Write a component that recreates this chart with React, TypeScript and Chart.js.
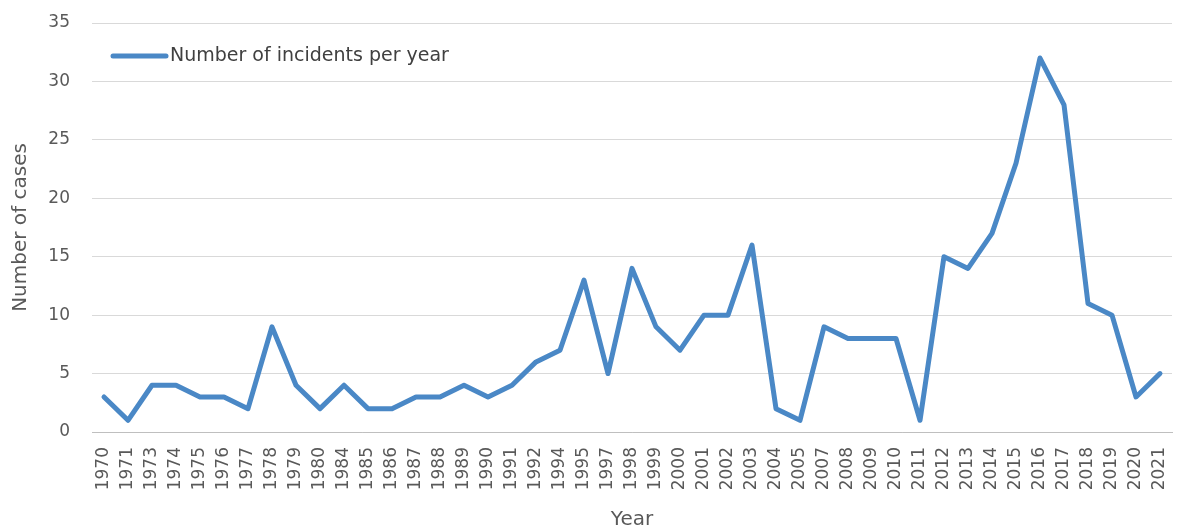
import { useEffect, useRef } from "react";
import { Chart, registerables } from "chart.js";

Chart.register(...registerables);

const years = [
  "1970", "1971", "1973", "1974", "1975", "1976", "1977", "1978", "1979", "1980",
  "1984", "1985", "1986", "1987", "1988", "1989", "1990", "1991", "1992", "1994",
  "1995", "1997", "1998", "1999", "2000", "2001", "2002", "2003", "2004", "2005",
  "2007", "2008", "2009", "2010", "2011", "2012", "2013", "2014", "2015", "2016",
  "2017", "2018", "2019", "2020", "2021",
];

const incidents = [
  3, 1, 4, 4, 3, 3, 2, 9, 4, 2,
  4, 2, 2, 3, 3, 4, 3, 4, 6, 7,
  13, 5, 14, 9, 7, 10, 10, 16, 2, 1,
  9, 8, 8, 8, 1, 15, 14, 17, 23, 32,
  28, 11, 10, 3, 5,
];

const seriesName = "Number of incidents per year";
const xTitle = "Year";
const yTitle = "Number of cases";

const LINE_COLOR = "#4a88c6";
const TEXT_COLOR = "#595959";
const FONT = "'DejaVu Sans', Verdana, sans-serif";

// Legend drawn inside the plot area, top-left, as a short line sample plus label
const insideLegend = {
  id: "insideLegend",
  afterDraw(chart: any) {
    const { ctx, chartArea } = chart;
    const ds = chart.data.datasets[0];
    const x0 = chartArea.left + 21;
    const y = chartArea.top + 33;
    ctx.save();
    ctx.strokeStyle = ds.borderColor;
    ctx.lineWidth = 5;
    ctx.lineCap = "round";
    ctx.beginPath();
    ctx.moveTo(x0, y);
    ctx.lineTo(x0 + 53, y);
    ctx.stroke();
    ctx.fillStyle = "#404040";
    ctx.font = `19px ${FONT}`;
    ctx.textBaseline = "middle";
    ctx.textAlign = "left";
    ctx.fillText(ds.label, x0 + 57, y);
    ctx.restore();
  },
};

export default function App() {
  const canvasRef = useRef<HTMLCanvasElement | null>(null);

  useEffect(() => {
    document.body.style.margin = "0";
    const canvas = canvasRef.current;
    if (!canvas) return;
    const chart = new Chart(canvas, {
      type: "line",
      data: {
        labels: years,
        datasets: [
          {
            label: seriesName,
            data: incidents,
            borderColor: LINE_COLOR,
            backgroundColor: LINE_COLOR,
            borderWidth: 5,
            pointRadius: 0,
            pointHoverRadius: 0,
            tension: 0,
            borderJoinStyle: "round",
            borderCapStyle: "round",
          },
        ],
      },
      options: {
        animation: false,
        responsive: false,
        layout: { autoPadding: false, padding: { top: 23, right: 10, left: 0, bottom: 0 } },
        plugins: {
          legend: { display: false },
          tooltip: { enabled: false },
        },
        scales: {
          x: {
            offset: true,
            grid: { display: false, drawTicks: false },
            border: { display: true, color: "#bfbfbf", width: 1 },
            ticks: {
              color: TEXT_COLOR,
              font: { family: FONT, size: 17 },
              minRotation: 90,
              maxRotation: 90,
              autoSkip: false,
              padding: 15,
            },
            title: {
              display: true,
              text: xTitle,
              color: TEXT_COLOR,
              font: { family: FONT, size: 20 },
              padding: { top: 0, bottom: 0 },
            },
            afterFit(scale: any) {
              scale.height = 100;
              scale.paddingLeft = 0;
              scale.paddingRight = 0;
            },
          },
          y: {
            min: 0,
            max: 35,
            grid: { color: "#d9d9d9", drawTicks: false, lineWidth: 1 },
            border: { display: false },
            ticks: {
              stepSize: 5,
              color: TEXT_COLOR,
              font: { family: FONT, size: 17 },
              padding: 22,
            },
            title: {
              display: true,
              text: yTitle,
              color: TEXT_COLOR,
              font: { family: FONT, size: 20 },
              padding: { top: 9, bottom: 0 },
            },
            afterFit(scale: any) {
              scale.width = 92;
              scale.paddingTop = 0;
              scale.paddingBottom = 0;
            },
          },
        },
      },
      plugins: [insideLegend],
    });
    return () => chart.destroy();
  }, []);

  return <canvas ref={canvasRef} width={1182} height={532} />;
}
